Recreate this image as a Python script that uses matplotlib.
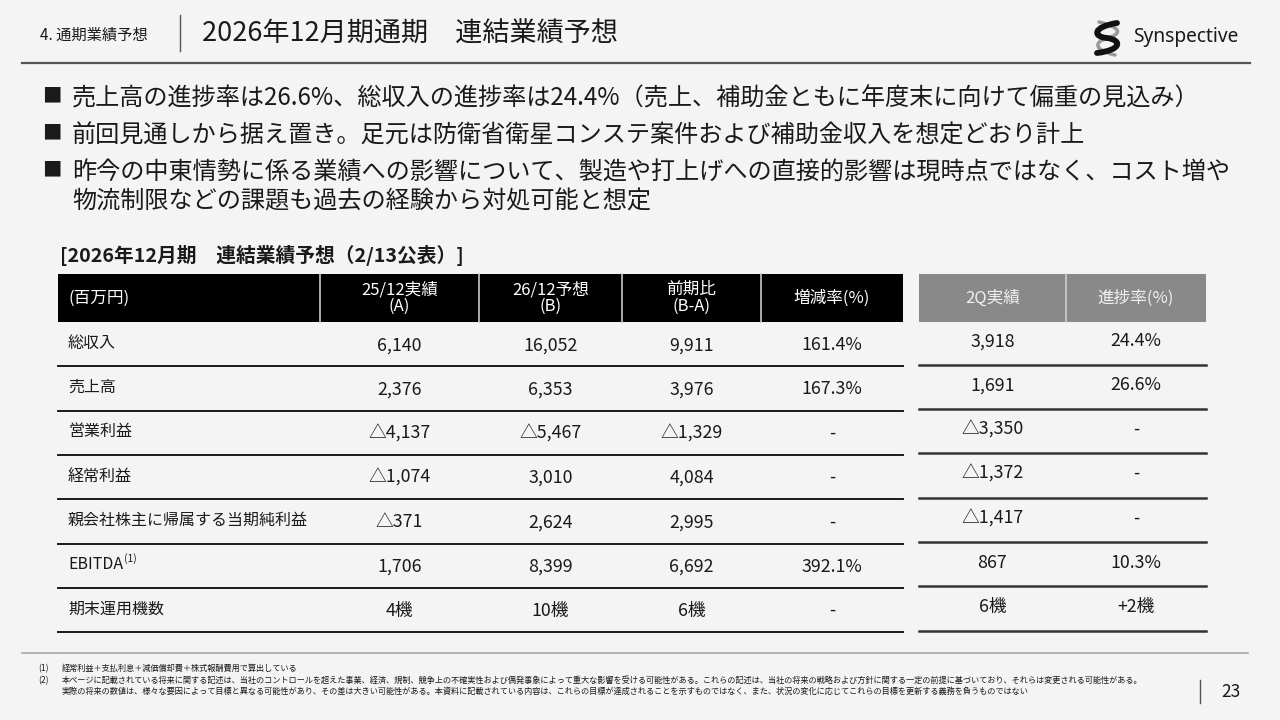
import matplotlib.pyplot as plt
from matplotlib.path import Path
from matplotlib.patches import PathPatch, Rectangle

plt.rcParams['font.family'] = ['Noto Sans CJK JP', 'DejaVu Sans']

# ---- slide text ----
section = "4. 通期業績予想"
title = "2026年12月期通期　連結業績予想"
bullets = [
    "売上高の進捗率は26.6%、総収入の進捗率は24.4%（売上、補助金ともに年度末に向けて偏重の見込み）",
    "前回見通しから据え置き。足元は防衛省衛星コンステ案件および補助金収入を想定どおり計上",
    "昨今の中東情勢に係る業績への影響について、製造や打上げへの直接的影響は現時点ではなく、コスト増や\n物流制限などの課題も過去の経験から対処可能と想定",
]
table_title = "[2026年12月期　連結業績予想（2/13公表）]"

# ---- table data ----
unit_label = "(百万円)"
main_headers = ["25/12実績\n(A)", "26/12予想\n(B)", "前期比\n(B-A)", "増減率(%)"]
side_headers = ["2Q実績", "進捗率(%)"]
row_labels = ["総収入", "売上高", "営業利益", "経常利益",
              "親会社株主に帰属する当期純利益", "EBITDA", "期末運用機数"]
actual_25 = ["6,140", "2,376", "△4,137", "△1,074", "△371", "1,706", "4機"]
forecast_26 = ["16,052", "6,353", "△5,467", "3,010", "2,624", "8,399", "10機"]
diff = ["9,911", "3,976", "△1,329", "4,084", "2,995", "6,692", "6機"]
change_rate = ["161.4%", "167.3%", "-", "-", "-", "392.1%", "-"]
q2_actual = ["3,918", "1,691", "△3,350", "△1,372", "△1,417", "867", "6機"]
progress = ["24.4%", "26.6%", "-", "-", "-", "10.3%", "+2機"]

footnotes = [
    ("(1)", "経常利益＋支払利息＋減価償却費＋株式報酬費用で算出している"),
    ("(2)", "本ページに記載されている将来に関する記述は、当社のコントロールを超えた事業、経済、規制、競争上の不確実性および偶発事象によって重大な影響を受ける可能性がある。これらの記述は、当社の将来の戦略および方針に関する一定の前提に基づいており、それらは変更される可能性がある。\n"
            "実際の将来の数値は、様々な要因によって目標と異なる可能性があり、その差は大きい可能性がある。本資料に記載されている内容は、これらの目標が達成されることを示すものではなく、また、状況の変化に応じてこれらの目標を更新する義務を負うものではない"),
]
page_no = "23"

BG = '#f4f4f4'
INK = '#1a1a1a'

fig = plt.figure(figsize=(12.8, 7.2), dpi=100, facecolor=BG)
ax = fig.add_axes([0, 0, 1, 1])
ax.set_xlim(0, 1280)
ax.set_ylim(720, 0)
ax.axis('off')

# ---- header ----
ax.text(40, 35, section, fontsize=11, color=INK, va='center')
ax.plot([180, 180], [15, 51], color='#555555', lw=1)
ax.text(202, 34, title, fontsize=19.5, color=INK, va='center')
ax.plot([22, 1250], [63, 63], color='#555555', lw=1.6)

# logo
black_s = Path([(1117, 23), (1092, 27), (1093, 37), (1107, 38),
                (1122, 40), (1122, 50), (1097, 53)],
               [Path.MOVETO] + [Path.CURVE4] * 6)
gray_s = Path([(1099, 22), (1123, 28), (1121, 34), (1108, 38),
               (1093, 42), (1094, 50), (1115, 55)],
              [Path.MOVETO] + [Path.CURVE4] * 6)
ax.add_patch(PathPatch(gray_s, fill=False, edgecolor='#9a9a9a', lw=2.5, capstyle='round'))
ax.add_patch(PathPatch(black_s, fill=False, edgecolor='#111111', lw=4.2, capstyle='round'))
ax.text(1133, 37, "Synspective", fontsize=13.8, color=INK, va='center', family='Noto Sans')

# ---- bullets ----
bullet_y = [96, 133, 170]
for y, txt in zip(bullet_y, bullets):
    ax.text(42, y, "■", fontsize=14, color=INK, va='center')
    ax.text(72, y - 10, txt, fontsize=17.4, color=INK, va='top', linespacing=1.1)

ax.text(60, 256, table_title, fontsize=14.2, color=INK, va='center', fontweight='bold')

# ---- main table ----
main_edges = [58, 320, 479, 622, 761, 903]
side_edges = [919, 1066, 1206]
head_top, head_bot = 274, 322
row_h = 44.3

ax.add_patch(Rectangle((main_edges[0], head_top), main_edges[-1] - main_edges[0],
                       head_bot - head_top, facecolor='black', edgecolor='none'))
for x in main_edges[1:-1]:
    ax.plot([x, x], [head_top, head_bot], color='#c8c8c8', lw=1.2)
ax.text(68, (head_top + head_bot) / 2, unit_label, fontsize=12, color='white', va='center')
for i, h in enumerate(main_headers):
    cx = (main_edges[i + 1] + main_edges[i + 2]) / 2
    ax.text(cx, (head_top + head_bot) / 2, h, fontsize=12, color='white',
            ha='center', va='center', linespacing=0.95)

ax.add_patch(Rectangle((side_edges[0], head_top), side_edges[-1] - side_edges[0],
                       head_bot - head_top, facecolor='#898989', edgecolor='none'))
ax.plot([side_edges[1], side_edges[1]], [head_top, head_bot], color='#cfcfcf', lw=1.2)
for i, h in enumerate(side_headers):
    cx = (side_edges[i] + side_edges[i + 1]) / 2
    ax.text(cx, (head_top + head_bot) / 2, h, fontsize=12, color='#f0f0f0',
            ha='center', va='center')

main_cols = [actual_25, forecast_26, diff, change_rate]
side_cols = [q2_actual, progress]
for r, label in enumerate(row_labels):
    yc = head_bot + (r + 0.5) * row_h - 1
    ybot = head_bot + (r + 1) * row_h
    ax.text(68, yc, label, fontsize=11.5, color=INK, va='center')
    if label == "EBITDA":
        ax.text(124, yc - 6, "(1)", fontsize=7.5, color=INK, va='center')
    for c, col in enumerate(main_cols):
        cx = (main_edges[c + 1] + main_edges[c + 2]) / 2
        ax.text(cx, yc + 2, col[r], fontsize=12.8, color=INK, ha='center', va='center')
    for c, col in enumerate(side_cols):
        cx = (side_edges[c] + side_edges[c + 1]) / 2
        ax.text(cx, yc - 2, col[r], fontsize=12.8, color=INK, ha='center', va='center')
    ax.plot([main_edges[0], main_edges[-1]], [ybot, ybot], color=INK, lw=1.4)
    ax.plot([side_edges[0], side_edges[-1]], [ybot - 1.5, ybot - 1.5], color='#333333', lw=1.8)

# ---- footer ----
ax.plot([22, 1248], [653, 653], color='#a8a8a8', lw=1.2)
fy = [669, 681]
for y, (mark, txt) in zip(fy, footnotes):
    ax.text(38, y, mark, fontsize=6.2, color=INK, va='center')
    ax.text(62, y - 5, txt, fontsize=5.9, color=INK, va='top', linespacing=1.3)
ax.plot([1200, 1200], [680, 703], color='#555555', lw=1)
ax.text(1221, 692, page_no, fontsize=12.5, color=INK, va='center')

fig.savefig('out.png', dpi=100, facecolor=BG)
